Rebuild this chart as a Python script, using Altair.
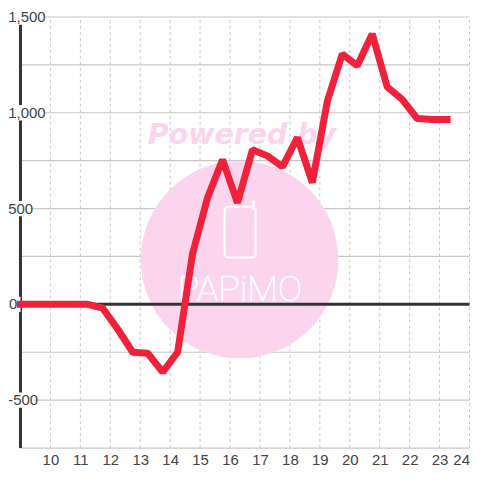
import altair as alt
import pandas as pd

hours = [9, 9.25, 9.75, 10.25, 10.75, 11.25, 11.75, 12.25, 12.75, 13.25, 13.75, 14.25, 14.75, 15.25, 15.75,
         16.25, 16.75, 17.25, 17.75, 18.25, 18.75, 19.25, 19.75, 20.25, 20.75, 21.25, 21.75, 22.25, 22.75, 23.25]
values = [0, 0, 0, 0, 0, 0, -20, -130, -250, -255, -354, -250, 265, 557, 755,
          530, 807, 775, 718, 870, 635, 1060, 1307, 1245, 1411, 1135, 1070, 970, 965, 965]
y_ticks = [-500, 0, 500, 1000, 1500]
y_labels = ["-500", "0", "500", "1,000", "1,500"]
y_label_x = [8.59, 8.62, 8.59, 8.59, 8.59]
y_label_end = [9.45, 9.0, 9.38, 9.82, 9.82]
grid_y = [-750, -500, -250, 0, 250, 500, 750, 1000, 1250, 1500]
x_ticks = list(range(10, 25))
x_start, x_end = 9, 24.0
y_min, y_max = -750, 1500

X = alt.Scale(domain=[8.5833, 24.05], nice=False, zero=False)
Y = alt.Scale(domain=[-752.6, 1544.27], nice=False, zero=False)
W, H = 464, 441
lines = pd.DataFrame({"h": hours, "v": values})
FONT = "Liberation Sans"

x_axis = alt.Axis(values=x_ticks, labelFontSize=15, labelFont=FONT, labelColor="#444444", grid=False,
                  domain=False, ticks=False, labelPadding=4, title=None, labelFlush=False,
                  labelOverlap=False, labelBound=False,
                  labelAlign={"condition": {"test": "datum.value == 24", "value": "right"}, "value": "center"})


def ex(field="h"):
    return alt.X(f"{field}:Q", scale=X, axis=x_axis)


def ey(field="v"):
    return alt.Y(f"{field}:Q", scale=Y, axis=None)


h_grid = alt.Chart(pd.DataFrame({"v": grid_y, "a": x_start, "b": x_end})).mark_rule(
    color="#c8c8c8", strokeWidth=1.2).encode(x=ex("a"), x2="b:Q", y=ey())
v_grid = alt.Chart(pd.DataFrame({"h": x_ticks, "a": y_min, "b": y_max})).mark_rule(
    color="#c8c8c8", strokeWidth=1, strokeDash=[3, 3]).encode(x=ex(), y=ey("a"), y2="b:Q")

circle = alt.Chart(pd.DataFrame({"h": [16.32], "v": [234]})).mark_circle(
    size=39204, color="#fbd5ee", opacity=1).encode(x=ex(), y=ey())
powered = alt.Chart(pd.DataFrame({"h": [16.4], "v": [885], "t": ["Powered by"]})).mark_text(
    font="DejaVu Sans", fontSize=28.5, fontWeight="bold", fontStyle="italic", color="#fbd5ee",
    align="center", baseline="middle").encode(x=ex(), y=ey(), text="t:N")
phone = alt.Chart(pd.DataFrame({"h": [15.82], "h2": [16.85], "v": [510], "v2": [245]})).mark_rect(
    fill=None, stroke="white", strokeWidth=2, cornerRadius=4).encode(x=ex(), x2="h2:Q", y=ey(), y2="v2:Q")
nub = alt.Chart(pd.DataFrame({"h": [16.78], "v": [535], "v2": [500]})).mark_rule(
    color="white", strokeWidth=3, strokeCap="round").encode(x=ex(), y=ey(), y2="v2:Q")
logo = alt.Chart(pd.DataFrame({"h": [16.33], "v": [73], "t": ["PAPiMO"]})).mark_text(
    font="Roboto", fontSize=36, fontWeight=100, color="white", stroke="white", strokeWidth=0.7,
    align="center", baseline="middle").encode(x=ex(), y=ey(), text="t:N")

y_line = alt.Chart(pd.DataFrame({"h": [x_start], "v": [y_min], "v2": [y_max]})).mark_rule(
    color="#333333", strokeWidth=3).encode(x=ex(), y=ey(), y2="v2:Q")
zero = alt.Chart(pd.DataFrame({"h": [x_start], "h2": [x_end], "v": [0]})).mark_rule(
    color="#333333", strokeWidth=3).encode(x=ex(), x2="h2:Q", y=ey())

lab = pd.DataFrame({"v": y_ticks, "t": y_labels, "h": y_label_x, "e": y_label_end,
                    "top": [t + 40 for t in y_ticks], "bot": [t - 40 for t in y_ticks]})
backs = alt.Chart(lab).mark_rect(fill="white").encode(x=ex("h"), x2="e:Q", y=ey("top"), y2="bot:Q")
text = alt.Chart(lab).mark_text(font=FONT, fontSize=15, align="left", baseline="middle",
                                color="#444444").encode(x=ex(), y=ey(), text="t:N")

line = alt.Chart(lines).mark_line(color="#f0213a", strokeWidth=7, strokeCap="square", strokeJoin="bevel",
                                  clip=False).encode(x=ex(), y=ey())

chart = alt.layer(h_grid, v_grid, circle, powered, phone, nub, logo, y_line, zero, backs, text, line
                  ).properties(width=W, height=H, padding=0, background="white"
                               ).configure_view(stroke=None)

chart.save("out.html", embed_options={"renderer": "svg", "actions": False})
